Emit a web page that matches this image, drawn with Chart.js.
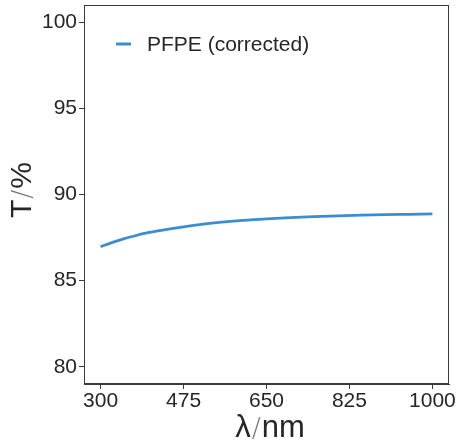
<!DOCTYPE html>
<html>
<head>
<meta charset="utf-8">
<script src="https://cdn.jsdelivr.net/npm/chart.js@4"></script>
<style>
  html, body { margin: 0; padding: 0; background: #fff; }
  #wrap { width: 456px; height: 442px; position: relative; }
</style>
</head>
<body>
<div id="wrap"><canvas id="chart"></canvas></div>
<script>
// ── data ─────────────────────────────────────────────────────────────────────
const wavelength = [300, 325, 350, 375, 400, 450, 500, 550, 600, 650, 700, 750, 800, 850, 900, 950, 1000];
const transmission = [86.97, 87.22, 87.44, 87.62, 87.78, 88.02, 88.22, 88.38, 88.5, 88.59, 88.66, 88.72, 88.76, 88.8, 88.83, 88.85, 88.87];
const seriesLabel = 'PFPE (corrected)';
const xTicks = [300, 475, 650, 825, 1000];
const yTicks = [80, 85, 90, 95, 100];

const FONT = '"Liberation Sans", Arial, sans-serif';
const INK = '#262626';
const LINE = '#3a8dd0';

// box around plot, legend and axis titles with thin slash
const decor = {
  id: 'decor',
  afterDraw(chart) {
    const { ctx, chartArea: a } = chart;
    ctx.save();
    ctx.strokeStyle = '#3a3a3a';
    ctx.lineWidth = 1;
    ctx.strokeRect(a.left + 0.5, a.top + 0.5, a.right - a.left - 1, a.bottom - a.top - 1);

    // legend
    ctx.strokeStyle = LINE;
    ctx.lineWidth = 3;
    ctx.beginPath();
    ctx.moveTo(116, 44);
    ctx.lineTo(131, 44);
    ctx.stroke();
    ctx.fillStyle = INK;
    ctx.font = '21px ' + FONT;
    ctx.textBaseline = 'middle';
    ctx.textAlign = 'left';
    ctx.fillText(chart.data.datasets[0].label, 147, 45);

    // title pieces, alphabetic baseline at cy
    function title(parts, cx, cy, rot) {
      ctx.save();
      ctx.translate(cx, cy);
      ctx.rotate(rot);
      let total = 0;
      parts.forEach(p => { ctx.font = p.font; p.w = ctx.measureText(p.t).width + (p.gap || 0) * 2; total += p.w; });
      let x = -total / 2;
      parts.forEach(p => {
        ctx.font = p.font;
        ctx.fillStyle = p.color;
        ctx.textAlign = 'left';
        ctx.textBaseline = 'alphabetic';
        ctx.fillText(p.t, x + (p.gap || 0), 0);
        x += p.w;
      });
      ctx.restore();
    }
    const slash = { t: '/', font: '200 27px "DejaVu Sans", sans-serif', color: '#777', gap: 1 };
    title([
      { t: 'λ', font: '31px ' + FONT, color: INK },
      slash,
      { t: 'nm', font: '31px ' + FONT, color: INK },
    ], 270, 437, 0);
    title([
      { t: 'T', font: '30px ' + FONT, color: INK },
      slash,
      { t: '%', font: '30px ' + FONT, color: INK },
    ], 31, 190, -Math.PI / 2);
    ctx.restore();
  },
};

new Chart(document.getElementById('chart'), {
  type: 'line',
  data: {
    datasets: [{
      label: seriesLabel,
      data: wavelength.map((x, i) => ({ x, y: transmission[i] })),
      borderColor: LINE,
      borderWidth: 2.8,
      pointRadius: 0,
      cubicInterpolationMode: 'monotone',
      fill: false,
    }],
  },
  options: {
    responsive: true,
    maintainAspectRatio: false,
    animation: false,
    layout: { padding: { top: 5, right: 7, left: 0, bottom: 0 } },
    plugins: { legend: { display: false }, tooltip: { enabled: false } },
    scales: {
      x: {
        type: 'linear',
        min: 265,
        max: 1035,
        afterBuildTicks: s => { s.ticks = xTicks.map(v => ({ value: v })); },
        afterFit: s => { s.height = 58; s.paddingLeft = 0; s.paddingRight = 0; },
        grid: { drawOnChartArea: false, tickLength: 5, color: '#3a3a3a' },
        border: { display: true, color: '#3a3a3a' },
        ticks: { color: INK, font: { family: FONT, size: 21 }, padding: 0, maxRotation: 0, callback: v => String(v) },
      },
      y: {
        min: 79,
        max: 101,
        afterBuildTicks: s => { s.ticks = yTicks.map(v => ({ value: v })); },
        afterFit: s => { s.width = 84; s.paddingTop = 0; s.paddingBottom = 0; },
        grid: { drawOnChartArea: false, tickLength: 5, color: '#3a3a3a' },
        border: { display: true, color: '#3a3a3a' },
        ticks: { color: INK, font: { family: FONT, size: 21 }, padding: 2, callback: v => String(v) },
      },
    },
  },
  plugins: [decor],
});
</script>
</body>
</html>
